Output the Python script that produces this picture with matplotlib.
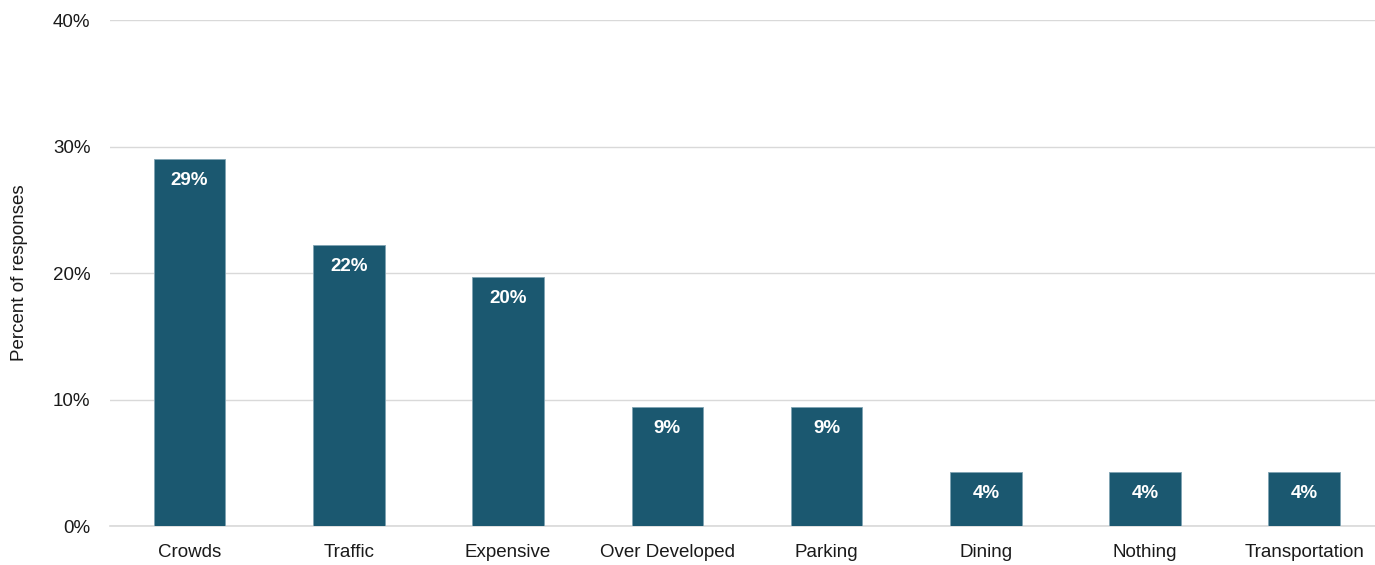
import matplotlib
matplotlib.use("Agg")
import matplotlib.pyplot as plt
from matplotlib import font_manager
from matplotlib.ticker import PercentFormatter

# datos
categorias = ["Crowds", "Traffic", "Expensive", "Over Developed", "Parking",
              "Dining", "Nothing", "Transportation"]
porcentajes = [29.0, 22.2, 19.7, 9.4, 9.4, 4.3, 4.3, 4.3]
etiquetas = ["29%", "22%", "20%", "9%", "9%", "4%", "4%", "4%"]
ticks_y = [0, 10, 20, 30, 40]

nombres = {f.name for f in font_manager.fontManager.ttflist}
fuente = "Liberation Sans Narrow" if "Liberation Sans Narrow" in nombres else "Liberation Sans"
plt.rcParams["font.family"] = [fuente, "DejaVu Sans"]

color_barra = "#1B5870"

fig = plt.figure(figsize=(13.75, 5.65), dpi=100)
ax = fig.add_axes([0.08, 0.069, 0.9265, 0.8956])

x = range(len(categorias))
ax.bar(x, porcentajes, width=0.45, color=color_barra, edgecolor="#7FA3B3",
       linewidth=0.6, zorder=3)

for xi, v, txt in zip(x, porcentajes, etiquetas):
    ax.annotate(txt, (xi, v), xytext=(0, -15.5), textcoords="offset points",
                ha="center", va="center", color="white", fontsize=13.5,
                fontweight="bold", zorder=4)

ax.set_xlim(-0.5, 7.5)
ax.set_ylim(0, 40)
ax.set_yticks(ticks_y)
ax.yaxis.set_major_formatter(PercentFormatter(decimals=0))
ax.set_xticks(list(x))
ax.set_xticklabels(categorias)
ax.tick_params(axis="both", length=0, labelsize=13.5, colors="#1a1a1a")
ax.tick_params(axis="y", pad=14)
ax.tick_params(axis="x", pad=13)
ax.grid(axis="y", color="#D9D9D9", linewidth=1, zorder=0)
ax.axhline(0, color="#D9D9D9", linewidth=1.2, zorder=1, clip_on=False)
for lado in ["top", "right", "left", "bottom"]:
    ax.spines[lado].set_visible(False)
ax.set_ylabel("Percent of responses", fontsize=13.5, color="#1a1a1a")
ax.yaxis.set_label_coords(-0.064, 0.5)

fig.savefig("out.png", dpi=100)
